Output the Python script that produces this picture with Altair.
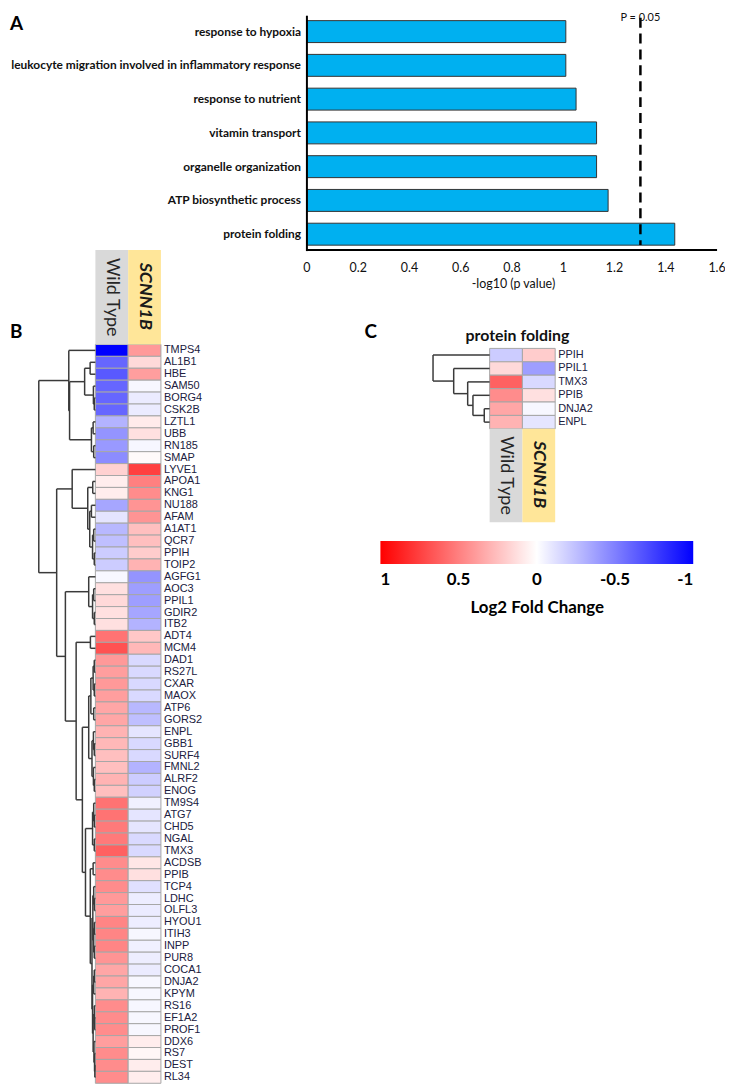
import altair as alt
import pandas as pd

# ---------------- data ----------------
terms = ["response to hypoxia",
         "leukocyte migration involved in inflammatory response",
         "response to nutrient", "vitamin transport", "organelle organization",
         "ATP biosynthetic process", "protein folding"]
neglogp = [1.01, 1.01, 1.05, 1.13, 1.13, 1.175, 1.435]
threshold = 1.301  # -log10(0.05)
tick_vals = [0, 0.2, 0.4, 0.6, 0.8, 1.0, 1.2, 1.4, 1.6]
tick_labels = ["0", "0.2", "0.4", "0.6", "0.8", "1", "1.2", "1.4", "1.6"]

groups = ["Wild Type", "SCNN1B"]

genes_b = ["TMPS4", "AL1B1", "HBE", "SAM50", "BORG4", "CSK2B", "LZTL1", "UBB", "RN185", "SMAP",
           "LYVE1", "APOA1", "KNG1", "NU188", "AFAM", "A1AT1", "QCR7", "PPIH", "TOIP2",
           "AGFG1", "AOC3", "PPIL1", "GDIR2", "ITB2", "ADT4", "MCM4",
           "DAD1", "RS27L", "CXAR", "MAOX", "ATP6", "GORS2",
           "ENPL", "GBB1", "SURF4", "FMNL2", "ALRF2", "ENOG",
           "TM9S4", "ATG7", "CHD5", "NGAL", "TMX3",
           "ACDSB", "PPIB", "TCP4", "LDHC", "OLFL3", "HYOU1", "ITIH3", "INPP", "PUR8",
           "COCA1", "DNJA2", "KPYM", "RS16", "EF1A2", "PROF1", "DDX6", "RS7", "DEST", "RL34"]
wt_b = [-1.0, -0.6, -0.65, -0.6, -0.6, -0.6, -0.3, -0.42, -0.4, -0.45,
        0.18, 0.07, 0.07, -0.35, -0.1, -0.28, -0.25, -0.2, -0.2,
        -0.03, 0.12, 0.15, 0.12, 0.12, 0.55, 0.68,
        0.4, 0.38, 0.4, 0.38, 0.35, 0.35,
        0.3, 0.28, 0.25, 0.25, 0.3, 0.25,
        0.55, 0.55, 0.52, 0.52, 0.62,
        0.45, 0.45, 0.45, 0.4, 0.38, 0.48, 0.48, 0.48, 0.42,
        0.35, 0.35, 0.3, 0.45, 0.45, 0.45, 0.38, 0.45, 0.45, 0.45]
scnn_b = [0.4, 0.15, 0.38, -0.03, -0.08, -0.08, 0.08, 0.12, -0.03, 0.02,
          0.75, 0.5, 0.45, 0.42, 0.42, 0.25, 0.25, 0.2, 0.3,
          -0.42, -0.38, -0.38, -0.35, -0.3, 0.22, 0.28,
          -0.15, -0.15, -0.15, -0.15, -0.28, -0.25,
          -0.1, -0.15, -0.15, -0.3, -0.2, -0.18,
          -0.06, -0.1, -0.1, -0.15, -0.15,
          0.1, 0.12, -0.12, -0.07, -0.08, -0.07, -0.03, -0.06, -0.07,
          -0.08, -0.03, -0.03, -0.03, -0.03, -0.03, 0.07, 0.03, 0.07, 0.07]

# dendrogram of panel B: nodes are (height, left, right); leaves are row indices
s19 = (0.19, (0.093, 1, 2), (0.035, 3, (0.02, 4, 5)))
s07 = (0.07, (0.04, 6, 7), (0.03, 8, 9))
A_cl = (0.47, 0, (0.456, s19, s07))
s_b1 = (0.1, (0.07, 13, 14), (0.05, (0.03, 15, 16), (0.02, 17, 18)))
B_up = (0.41, 10, (0.135, (0.047, 11, 12), s_b1))
C1 = (0.118, 19, (0.05, (0.03, 20, 21), (0.02, 22, 23)))
G1 = (0.04, (0.02, 26, 27), (0.02, 28, 29))
G2 = (0.03, 30, 31)
G3 = (0.06, (0.035, 32, (0.02, 33, 34)), (0.035, 35, (0.02, 36, 37)))
D1 = (0.118, (0.08, G1, G2), G3)
E1 = (0.05, (0.03, 38, (0.02, 39, 40)), (0.02, 41, 42))
E3a = (0.045, (0.03, 45, (0.02, 46, 47)), (0.03, (0.02, 48, 49), (0.02, 50, 51)))
E3b1 = (0.03, (0.02, 52, 53), 54)
E3b2 = (0.04, (0.02, 55, (0.015, 56, 57)), (0.025, 58, (0.015, 59, (0.01, 60, 61))))
E3 = (0.06, E3a, (0.05, E3b1, E3b2))
E2 = (0.09, (0.04, 43, 44), E3)
D2 = (0.175, E1, E2)
C3 = (0.23, D1, D2)
C2 = (0.34, (0.088, 24, 25), C3)
B_low = (0.53, C1, C2)
B_cl = (0.684, B_up, B_low)
tree_b = (1.0, A_cl, B_cl)

genes_c = ["PPIH", "PPIL1", "TMX3", "PPIB", "DNJA2", "ENPL"]
wt_c = [-0.2, 0.15, 0.62, 0.45, 0.35, 0.3]
scnn_c = [0.2, -0.38, -0.15, 0.12, -0.03, -0.1]
tree_c = (1.0, 0, (0.635, 1, (0.388, 2, (0.295, 3, (0.095, 4, 5)))))

legend_vals = [1, 0.5, 0, -0.5, -1]

# ---------------- helpers ----------------
OX, OY = 8, 8
W, H = 722, 1080
FONT = "Lato"


def px(x):
    return x - OX


def py(y):
    return y - OY


def dendro_segments(tree):
    segs = []

    def walk(node):
        if isinstance(node, int):
            return node + 0.5, 0.0
        h, left, right = node
        yl, hl = walk(left)
        yr, hr = walk(right)
        segs.append({"h1": h, "h2": h, "y1": yl, "y2": yr})
        segs.append({"h1": hl, "h2": h, "y1": yl, "y2": yl})
        segs.append({"h1": hr, "h2": h, "y1": yr, "y2": yr})
        return (yl + yr) / 2, h

    walk(tree)
    return pd.DataFrame(segs)


one = pd.DataFrame({"a": [0]})
layers = []

# ---------------- panel A ----------------
dfA = pd.DataFrame({"term": terms, "value": neglogp, "base": [0] * len(terms)})
xA = alt.Scale(domain=[0, 1.6], range=[px(309), px(722)], nice=False, zero=False)
yA = alt.Scale(type="band", domain=terms, range=[py(11), py(249)],
               paddingInner=0.35, paddingOuter=0.175)

layers.append(alt.Chart(dfA).mark_bar(color="#00b0f0", stroke="#333333", strokeWidth=1).encode(
    x=alt.X("base:Q", scale=xA, axis=None), x2="value:Q",
    y=alt.Y("term:N", scale=yA, axis=None)))
layers.append(alt.Chart(dfA).mark_text(align="right", baseline="middle", font=FONT,
                                       fontWeight="bold", fontSize=12, color="#111111").encode(
    x=alt.value(px(303)), y=alt.Y("term:N", scale=yA, axis=None), text="term:N"))

dfT = pd.DataFrame({"v": tick_vals, "lab": tick_labels})
layers.append(alt.Chart(dfT).mark_text(baseline="middle", align="center", font=FONT,
                                       fontSize=12.5, color="#111111").encode(
    x=alt.X("v:Q", scale=xA, axis=None), y=alt.value(py(266)), text="lab:N"))

layers.append(alt.Chart(pd.DataFrame({"v": [0]})).mark_rule(color="black", strokeWidth=2).encode(
    x=alt.X("v:Q", scale=xA, axis=None), y=alt.value(py(12)), y2=alt.value(py(249))))
layers.append(alt.Chart(pd.DataFrame({"a": [0], "b": [1.6]})).mark_rule(color="black", strokeWidth=2).encode(
    x=alt.X("a:Q", scale=xA, axis=None), x2="b:Q", y=alt.value(py(248))))

dfP = pd.DataFrame({"v": [threshold]})
layers.append(alt.Chart(dfP).mark_rule(color="black", strokeWidth=2.5, strokeDash=[10, 6]).encode(
    x=alt.X("v:Q", scale=xA, axis=None), y=alt.value(py(14)), y2=alt.value(py(243))))
layers.append(alt.Chart(dfP).mark_text(text="P = 0.05", baseline="top", align="center", font=FONT,
                                       fontSize=11, color="#111111").encode(
    x=alt.X("v:Q", scale=xA, axis=None), y=alt.value(0)))

layers.append(alt.Chart(one).mark_text(text="-log10 (p value)", baseline="middle", align="center",
                                       font=FONT, fontSize=12.5, color="#111111").encode(
    x=alt.value(px(517)), y=alt.value(py(282))))

# panel letters
for letter, lx, ly in [("A", 10, 20), ("B", 10, 331), ("C", 367, 331)]:
    layers.append(alt.Chart(one).mark_text(text=letter, baseline="middle", align="left", font=FONT,
                                           fontSize=19, fontWeight="bold", color="black").encode(
        x=alt.value(px(lx)), y=alt.value(py(ly))))


# ---------------- shared colour scale ----------------
def color_scale():
    return alt.Scale(domain=[1, 0, -1], range=["#ff0000", "#ffffff", "#0000ff"],
                     interpolate="rgb", clamp=True)


legend = alt.Legend(orient="none", legendX=px(383), legendY=py(541), direction="horizontal",
                    gradientLength=315, gradientThickness=23, gradientStrokeWidth=0,
                    title="Log2 Fold Change", titleOrient="bottom", titleAnchor="middle",
                    titleFont=FONT, titleFontSize=17, titleFontWeight="bold", titleColor="black",
                    titlePadding=12, labelFont=FONT, labelFontSize=17, labelFontWeight="bold",
                    labelColor="black", labelOffset=8, labelOverlap=False,
                    values=legend_vals, labelExpr="toString(datum.value)", padding=0)

header_colors = alt.Scale(domain=groups, range=["#d9d9d9", "#ffe699"])


def heat_panel(genes, wt, scnn, x0, x1, y0, y1, tree, dx_root, hy0, hy1, show_legend):
    n = len(genes)
    df = pd.DataFrame({"gene": genes * 2, "group": [groups[0]] * n + [groups[1]] * n,
                       "value": list(wt) + list(scnn)})
    xs = alt.Scale(type="band", domain=groups, range=[px(x0), px(x1)], paddingInner=0, paddingOuter=0)
    ys = alt.Scale(type="band", domain=genes, range=[py(y0), py(y1)], paddingInner=0, paddingOuter=0)
    out = []
    out.append(alt.Chart(df).mark_rect(stroke="#a6a6a6", strokeWidth=1).encode(
        x=alt.X("group:N", scale=xs, axis=None),
        y=alt.Y("gene:N", scale=ys, axis=None),
        color=alt.Color("value:Q", scale=color_scale(), legend=legend if show_legend else None)))
    dfl = pd.DataFrame({"gene": genes})
    out.append(alt.Chart(dfl).mark_text(align="left", baseline="middle", font="Liberation Sans",
                                        fontSize=11, color="#202040").encode(
        x=alt.value(px(x1 + 3)), y=alt.Y("gene:N", scale=ys, axis=None), text="gene:N"))
    # header boxes
    dfh = pd.DataFrame({"group": groups})
    out.append(alt.Chart(dfh).mark_rect().encode(
        x=alt.X("group:N", scale=xs, axis=None), y=alt.value(py(hy0)), y2=alt.value(py(hy1)),
        color=alt.Color("group:N", scale=header_colors, legend=None)))
    mid = (hy0 + hy1) / 2
    out.append(alt.Chart(pd.DataFrame({"group": [groups[0]]})).mark_text(
        angle=90, align="center", baseline="middle", font=FONT, fontSize=18, color="#262626").encode(
        x=alt.X("group:N", scale=xs, axis=None), y=alt.value(py(mid)), text="group:N"))
    out.append(alt.Chart(pd.DataFrame({"group": [groups[1]]})).mark_text(
        angle=90, align="center", baseline="middle", font=FONT, fontSize=18, fontWeight="bold",
        fontStyle="italic", color="#1a1a1a").encode(
        x=alt.X("group:N", scale=xs, axis=None), y=alt.value(py(mid - 1)), text="group:N"))
    # dendrogram
    segs = dendro_segments(tree)
    xd = alt.Scale(domain=[0, 1], range=[px(x0), px(dx_root)], nice=False, zero=False)
    yd = alt.Scale(domain=[0, n], range=[py(y0), py(y1)], nice=False, zero=False)
    out.append(alt.Chart(segs).mark_rule(color="#3a3a3a", strokeWidth=1.5).encode(
        x=alt.X("h1:Q", scale=xd, axis=None), x2="h2:Q",
        y=alt.Y("y1:Q", scale=yd, axis=None), y2="y2:Q"))
    return out


# ---------------- panel B ----------------
rowB = 12.0
layers += heat_panel(genes_b, wt_b, scnn_b, 96, 162, 343, 343 + rowB * len(genes_b),
                     tree_b, 39, 248, 343, True)

# ---------------- panel C ----------------
layers += heat_panel(genes_c, wt_c, scnn_c, 493, 559, 347, 428, tree_c, 436, 428, 522, False)
layers.append(alt.Chart(one).mark_text(text="protein folding", baseline="middle", align="center",
                                       font=FONT, fontSize=16, fontWeight="bold", color="#111111").encode(
    x=alt.value(px(521)), y=alt.value(py(335))))

chart = alt.layer(*layers).resolve_scale(
    x="independent", y="independent", color="independent"
).properties(
    width=W, height=H, padding=0, autosize=alt.AutoSizeParams(type="none"),
    background="white"
).configure_view(stroke=None)

chart.save("out.html", embed_options={"renderer": "svg", "actions": False})
